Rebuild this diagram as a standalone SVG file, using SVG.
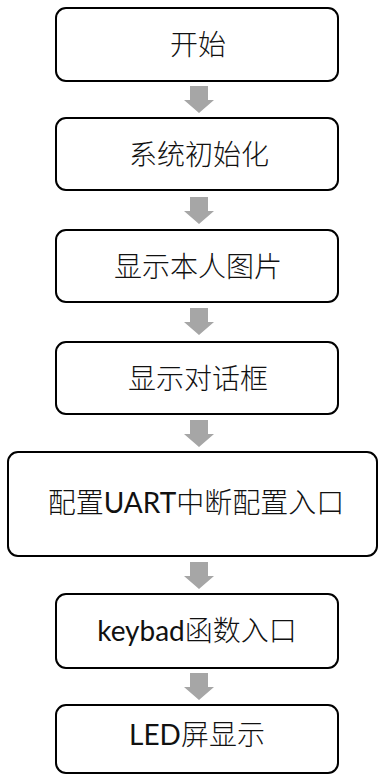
<svg xmlns="http://www.w3.org/2000/svg" width="385" height="778" viewBox="0 0 385 778">
<style>
.box{fill:#fff;stroke:#000;stroke-width:2}
.t{font-family:"Lato","Noto Sans CJK SC",sans-serif;font-size:28px;font-weight:300;fill:#111;text-anchor:middle}
.l{font-weight:400}
.arr{fill:#a6a6a6}
</style>
<defs>
<path id="a" d="M190,0 H208 V14 H214 L199,27 L184,14 H190 Z"/>
</defs>
<rect width="385" height="778" fill="#fff"/>
<g id="connectors">
<use href="#a" class="arr" y="86"/>
<use href="#a" class="arr" y="197"/>
<use href="#a" class="arr" y="308"/>
<use href="#a" class="arr" y="420"/>
<use href="#a" class="arr" y="562"/>
<use href="#a" class="arr" y="673"/>
</g>
<g id="n1"><rect class="box" x="56" y="8" width="282" height="73" rx="10"/><text class="t" x="198" y="55">开始</text></g>
<g id="n2"><rect class="box" x="56" y="118" width="282" height="72" rx="10"/><text class="t" x="199" y="165">系统初始化</text></g>
<g id="n3"><rect class="box" x="56" y="230" width="282" height="72" rx="10"/><text class="t" x="198" y="277">显示本人图片</text></g>
<g id="n4"><rect class="box" x="56" y="342" width="282" height="72" rx="10"/><text class="t" x="198" y="389">显示对话框</text></g>
<g id="n5"><rect class="box" x="8" y="452" width="369" height="104" rx="10"/><text class="t" x="196" y="513">配置<tspan class="l">UART</tspan>中断配置入口</text></g>
<g id="n6"><rect class="box" x="56" y="594" width="282" height="74" rx="10"/><text class="t" x="197" y="641"><tspan class="l">keybad</tspan>函数入口</text></g>
<g id="n7"><rect class="box" x="56" y="705" width="282" height="68" rx="10"/><text class="t" x="197" y="745"><tspan class="l">LED</tspan>屏显示</text></g>
</svg>
